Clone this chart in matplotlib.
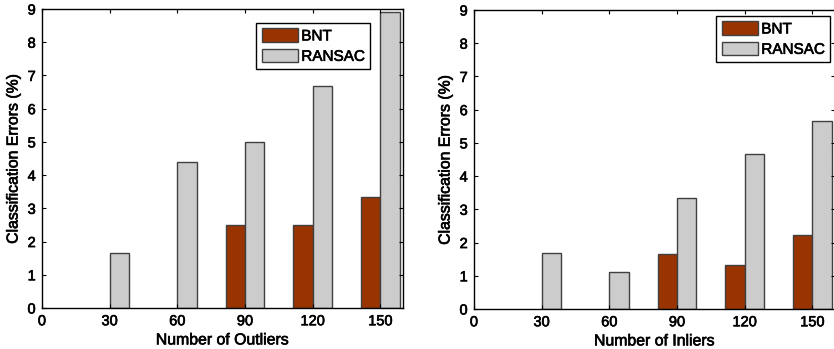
import matplotlib
matplotlib.use("Agg")
import matplotlib.pyplot as plt
import matplotlib.patheffects as pe
import numpy as np

plt.rcParams['font.family'] = ['Liberation Sans', 'DejaVu Sans']

# Data
counts = [30, 60, 90, 120, 150]
xticks = [0, 30, 60, 90, 120, 150]
yticks = [0, 1, 2, 3, 4, 5, 6, 7, 8, 9]
series_names = ["BNT", "RANSAC"]

outliers_bnt = [0.0, 0.0, 2.5, 2.5, 3.33]
outliers_ransac = [1.67, 4.4, 5.0, 6.67, 8.9]

inliers_bnt = [0.0, 0.0, 1.67, 1.33, 2.22]
inliers_ransac = [1.7, 1.1, 3.33, 4.67, 5.67]

BNT_COLOR = "#993300"
RANSAC_COLOR = "#cccccc"
EDGE = "#404040"

# slightly heavier glyphs
HEAVY = [pe.withStroke(linewidth=0.45, foreground="black")]

fig = plt.figure(figsize=(8.34, 3.49), dpi=100)

ax_w = 361 / 834
ax_h = 299 / 349
ax1 = fig.add_axes([42 / 834, 41 / 349, ax_w, ax_h])
ax2 = fig.add_axes([474 / 834, 40 / 349, ax_w, ax_h])


def draw(ax, bnt, ransac, xlabel, legend_anchor):
    x = np.array(counts, dtype=float)
    w = 8.6
    bnt = np.asarray(bnt)
    ransac = np.asarray(ransac)
    # zero-height bars leave no outline on the baseline
    bnt_lw = np.where(bnt > 0, 1.0, 0.0)
    ax.bar(x - w / 2, bnt, width=w, color=BNT_COLOR, edgecolor=EDGE,
           linewidth=bnt_lw, label=series_names[0])
    ax.bar(x + w / 2, ransac, width=w, color=RANSAC_COLOR, edgecolor=EDGE,
           linewidth=1.0, label=series_names[1])
    ax.set_xlim(0, 160)
    ax.set_ylim(0, 9)
    ax.set_xticks(xticks)
    ax.set_yticks(yticks)
    ax.tick_params(direction="in", length=3, width=0.8, top=True, right=True,
                   labelsize=10.5, pad=4.5, colors="black")
    for s in ax.spines.values():
        s.set_linewidth(1.0)
        s.set_color("black")
    ax.set_xlabel(xlabel, fontsize=11.4, labelpad=3)
    ax.set_ylabel("Classification Errors (%)", fontsize=11.4, labelpad=5)
    leg = ax.legend(loc="upper right", bbox_to_anchor=legend_anchor,
                    borderaxespad=0, fontsize=11, handlelength=2.4,
                    handleheight=1.0, handletextpad=0.2, labelspacing=0.35,
                    borderpad=0.35, fancybox=False, framealpha=1,
                    edgecolor="black")
    leg.get_frame().set_linewidth(1.0)
    for h in leg.legend_handles:
        h.set_edgecolor(EDGE)
        h.set_linewidth(1.0)
    texts = (ax.get_xticklabels() + ax.get_yticklabels() + leg.get_texts()
             + [ax.xaxis.label, ax.yaxis.label])
    for t in texts:
        t.set_path_effects(HEAVY)


draw(ax1, outliers_bnt, outliers_ransac, "Number of Outliers",
     ((370 - 42) / 361, (308 - 23) / 299))
draw(ax2, inliers_bnt, inliers_ransac, "Number of Inliers",
     ((830 - 474) / 361, (309 - 16) / 299))

fig.savefig("out.png", dpi=100)
